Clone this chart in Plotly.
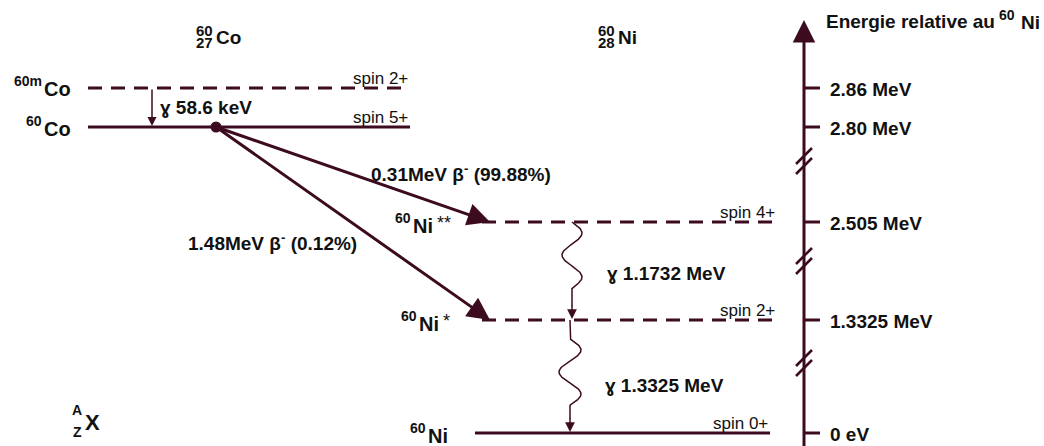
import numpy as np
import plotly.graph_objects as go

# ---------------- data ----------------
level_names = ["Co", "Co", "Ni", "Ni", "Ni"]
level_mass = ["60m", "60", "60", "60", "60"]
level_marks = ["", "", "**", "*", ""]
level_energy_labels = ["2.86 MeV", "2.80 MeV", "2.505 MeV", "1.3325 MeV", "0 eV"]
level_spins = ["spin 2+", "spin 5+", "spin 4+", "spin 2+", "spin 0+"]
level_dashed = [True, False, True, True, False]
beta_energies = ["0.31MeV", "1.48MeV"]
beta_branches = ["99.88%", "0.12%"]
beta_targets = [2, 3]
gamma_labels = ["58.6 keV", "1.1732 MeV", "1.3325 MeV"]
gamma_from = [0, 2, 3]
gamma_to = [1, 3, 4]
nuclides = [("60", "27", "Co"), ("60", "28", "Ni")]
axis_title = ("Energie relative au", "60", "Ni")

# ---------------- layout (page pixel positions) ----------------
W, H = 1044, 446
LINE = "#3c0b1f"
TXT = "#111111"
FONT = "Liberation Sans, Arial, sans-serif"
level_y = [88, 127, 222, 320, 433]
level_x0 = [88, 88, 482, 482, 475]
level_x1 = [410, 410, 777, 777, 770]
name_left = [43, 43, 412, 418, 427]
name_y = [89, 129, 226, 324, 436]
name_width = {"Co": 27, "Ni": 21}
axis_x = 804
breaks_y = [161, 261, 363]
dot = (216, 127)
wave_x = [None, 572, 570]
title_x = [215, 617]

fig = go.Figure()
shapes, ann = [], []


def text(x, y, s, size, bold=True, xanchor="left", yanchor="middle"):
    ann.append(dict(x=x, y=y, text=f"<b>{s}</b>" if bold else s, showarrow=False,
                    xanchor=xanchor, yanchor=yanchor, borderpad=0,
                    font=dict(family=FONT, size=size, color=TXT)))


# levels, spins, energy ticks
for i in range(len(level_names)):
    y = level_y[i]
    shapes.append(dict(type="line", x0=level_x0[i], x1=level_x1[i], y0=y, y1=y,
                       line=dict(color=LINE, width=3,
                                 dash="14px,9px" if level_dashed[i] else "solid")))
    text(level_x1[i] - 1, y - 10, level_spins[i], 17, bold=False, xanchor="right")
    shapes.append(dict(type="line", x0=axis_x, x1=axis_x + 16, y0=y, y1=y,
                       line=dict(color=LINE, width=3)))
    text(axis_x + 25, y + 1, level_energy_labels[i], 19)

# level name labels with superscript mass numbers
for i in range(len(level_names)):
    xl = name_left[i]
    y = name_y[i]
    text(xl, y, level_names[i], 20)
    text(xl, y - 8, level_mass[i], 14, xanchor="right")
    if level_marks[i]:
        text(xl + name_width[level_names[i]] + 3, y - 3, level_marks[i], 18,
             bold=False)

# nuclide titles (A over Z)
for (a, z, nm), xc in zip(nuclides, title_x):
    text(xc, 37, nm, 19)
    text(xc - 1, 30, a, 15, xanchor="right")
    text(xc - 1, 42, z, 15, xanchor="right")

# energy axis with arrow
ann.append(dict(x=axis_x, y=20, ax=axis_x, ay=H + 5, xref="x", yref="y", axref="x",
                ayref="y", text="", showarrow=True, arrowhead=2, arrowsize=1.5,
                arrowwidth=3, arrowcolor=LINE, standoff=0))
text(825, 21, axis_title[0], 19)
text(1041, 22, axis_title[2], 19, xanchor="right")
text(1016, 15, axis_title[1], 14, xanchor="right")

# axis break marks
for by in breaks_y:
    for off in (-5, 5):
        shapes.append(dict(type="line", x0=axis_x - 8, x1=axis_x + 8,
                           y0=by + off + 8, y1=by + off - 8,
                           line=dict(color=LINE, width=2.5)))

# gamma 58.6 keV (straight arrow)
gx = 152
ann.append(dict(x=gx, y=level_y[gamma_to[0]] - 1, ax=gx, ay=level_y[gamma_from[0]],
                xref="x", yref="y", axref="x", ayref="y", text="", showarrow=True,
                arrowhead=2, arrowsize=1.2, arrowwidth=1.5, arrowcolor=LINE, standoff=0))
text(159, 107, "\u0263 " + gamma_labels[0], 19)

# beta arrows
for e, br, tgt in zip(beta_energies, beta_branches, beta_targets):
    ann.append(dict(x=490, y=level_y[tgt], ax=dot[0], ay=dot[1], xref="x", yref="y",
                    axref="x", ayref="y", text="", showarrow=True, arrowhead=2,
                    arrowsize=1.5, arrowwidth=3, arrowcolor=LINE, standoff=0))
label_pos = [(370, 173), (187, 242)]
for (e, br), (lx, ly) in zip(zip(beta_energies, beta_branches), label_pos):
    text(lx, ly, f"{e} β<sup>-</sup> ({br})", 19)

fig.add_trace(go.Scatter(x=[dot[0]], y=[dot[1]], mode="markers",
                         marker=dict(size=11, color=LINE), hoverinfo="skip"))

# wavy gamma transitions
for g in (1, 2):
    y0 = level_y[gamma_from[g]]
    y1 = level_y[gamma_to[g]]
    xc = wave_x[g]
    start = y0 if g == 1 else y0 + 19
    ys = np.linspace(y0, y1 - 14, 200)
    ph = np.clip((ys - start) / 44.0, 0, 1.5)
    amp = 10 if g == 1 else 11
    xs = xc + amp * np.sin(2 * np.pi * ph)
    fig.add_trace(go.Scatter(x=xs, y=ys, mode="lines",
                             line=dict(color=LINE, width=1.5), hoverinfo="skip"))
    ann.append(dict(x=xc, y=y1 - 1, ax=xc, ay=y1 - 16, xref="x", yref="y", axref="x",
                    ayref="y", text="", showarrow=True, arrowhead=2, arrowsize=1.3,
                    arrowwidth=1.5, arrowcolor=LINE, standoff=0))
text(606, 273, "\u0263 " + gamma_labels[1], 19)
text(604, 385, "\u0263 " + gamma_labels[2], 19)

# generic A/Z X notation
text(84, 422, "X", 22)
text(83, 410, "A", 14, xanchor="right")
text(83, 432, "Z", 14, xanchor="right")

fig.update_layout(
    width=W, height=H, margin=dict(l=0, r=0, t=0, b=0),
    paper_bgcolor="white", plot_bgcolor="white", showlegend=False,
    shapes=shapes, annotations=ann,
    xaxis=dict(range=[0, W], visible=False, fixedrange=True),
    yaxis=dict(range=[H, 0], visible=False, fixedrange=True),
)
fig.write_html(
    "out.html",
    config={"displayModeBar": False},
    post_script="document.body.style.margin='0px';document.body.style.overflow='hidden';",
)
